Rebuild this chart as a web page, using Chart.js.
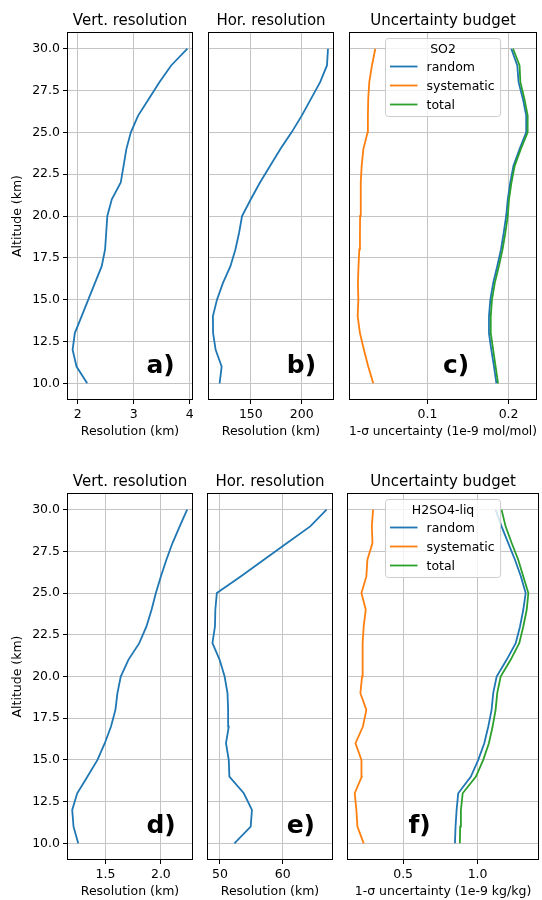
<!DOCTYPE html>
<html>
<head>
<meta charset="utf-8">
<script src="https://cdn.jsdelivr.net/npm/chart.js@4.4.1/dist/chart.umd.min.js"></script>
<style>
  html, body { margin: 0; padding: 0; background: #fff; overflow: hidden; }
  #fig { position: relative; width: 542px; height: 900px; }
  #fig canvas { position: absolute; }
</style>
</head>
<body>
<div id="fig"></div>
<script>
// altitude levels (km), bottom to top
const altitude = [10, 11, 12, 13, 14, 15, 16, 17, 18, 19, 20, 21, 22, 23, 24, 25, 26, 27, 28, 29, 30];
const altRange = [9, 31];
const altTicks = [10, 12.5, 15, 17.5, 20, 22.5, 25, 27.5, 30];
const altTickLabels = ['10.0', '12.5', '15.0', '17.5', '20.0', '22.5', '25.0', '27.5', '30.0'];

const seriesNames = ['random', 'systematic', 'total'];

// --- SO2 (top row) ---
const vertResSO2 = [2.17, 1.98, 1.91, 1.95, 2.07, 2.19, 2.31, 2.43, 2.49, 2.51, 2.53, 2.61, 2.77, 2.82, 2.87, 2.95, 3.08, 3.27, 3.46, 3.67, 3.96];
const vertResSO2Range = [1.81, 4.06];
const vertResSO2Ticks = [2, 3, 4];
const vertResSO2TickLabels = ['2', '3', '4'];

const horResSO2 = [119.4, 121.4, 115.5, 113, 112.8, 116.8, 122.7, 130, 134.9, 138.5, 141.4, 150, 159, 169, 179, 190, 200, 209, 218, 224.7, 225.7];
const horResSO2Range = [108, 231.6];
const horResSO2Ticks = [150, 200];
const horResSO2TickLabels = ['150', '200'];

const randomSO2 = [0.185, 0.182, 0.1787, 0.1758, 0.1758, 0.1775, 0.181, 0.186, 0.1906, 0.194, 0.197, 0.199, 0.202, 0.206, 0.2135, 0.2217, 0.2217, 0.2176, 0.2123, 0.2107, 0.2033];
const systematicSO2 = [0.0332, 0.027, 0.0217, 0.0168, 0.014, 0.0148, 0.0143, 0.015, 0.016, 0.0168, 0.017, 0.0176, 0.018, 0.0189, 0.021, 0.0262, 0.0266, 0.027, 0.0283, 0.0316, 0.0357];
const totalSO2 = [0.187, 0.184, 0.181, 0.178, 0.178, 0.1795, 0.183, 0.188, 0.1925, 0.196, 0.199, 0.2005, 0.2035, 0.2075, 0.215, 0.2235, 0.2235, 0.2195, 0.2145, 0.2135, 0.2055];
const uncSO2Range = [0.0033, 0.235];
const uncSO2Ticks = [0.1, 0.2];
const uncSO2TickLabels = ['0.1', '0.2'];

// --- H2SO4-liq (bottom row) ---
const vertResH2SO4 = [1.254, 1.212, 1.2, 1.245, 1.338, 1.428, 1.494, 1.55, 1.59, 1.608, 1.638, 1.707, 1.805, 1.87, 1.916, 1.955, 2.0, 2.05, 2.105, 2.17, 2.237];
const vertResH2SO4Range = [1.153, 2.29];
const vertResH2SO4Ticks = [1.5, 2.0];
const vertResH2SO4TickLabels = ['1.5', '2.0'];

const horResH2SO4 = [52.3, 54.9, 55.1, 53.8, 51.5, 51.4, 50.96, 51.4, 51.3, 51.2, 50.74, 49.95, 48.8, 49.2, 49.26, 49.5, 53.3, 57.0, 60.7, 64.4, 67.0];
const horResH2SO4Range = [47.93, 68.03];
const horResH2SO4Ticks = [50, 60];
const horResH2SO4TickLabels = ['50', '60'];

const randomH2SO4 = [0.848, 0.852, 0.859, 0.87, 0.955, 1.0045, 1.045, 1.072, 1.094, 1.105, 1.128, 1.195, 1.256, 1.285, 1.307, 1.323, 1.291, 1.251, 1.206, 1.161, 1.121];
const systematicH2SO4 = [0.235, 0.193, 0.186, 0.175, 0.222, 0.22, 0.18, 0.23, 0.253, 0.213, 0.224, 0.226, 0.23, 0.235, 0.249, 0.22, 0.253, 0.26, 0.294, 0.29, 0.298];
const totalH2SO4 = [0.881, 0.883, 0.888, 0.9, 0.989, 1.038, 1.076, 1.101, 1.121, 1.132, 1.155, 1.222, 1.28, 1.307, 1.33, 1.341, 1.307, 1.273, 1.229, 1.188, 1.161];
const uncH2SO4Range = [0.123, 1.4125];
const uncH2SO4Ticks = [0.5, 1.0];
const uncH2SO4TickLabels = ['0.5', '1.0'];

const BLUE = '#1f77b4', ORANGE = '#ff7f0e', GREEN = '#2ca02c';
const FONT = '"DejaVu Sans", sans-serif';

Chart.defaults.font.family = FONT;
Chart.defaults.font.size = 12.5;
Chart.defaults.color = '#000';

// chart-area boxes: left, top, width, height (page pixels)
const panels = [
    { box: [67, 32, 126, 368], title: 'Vert. resolution', xLabel: 'Resolution (km)', showY: true,
      xRange: vertResSO2Range, xTicks: vertResSO2Ticks, xTickLabels: vertResSO2TickLabels,
      series: [{ label: 'vert', data: vertResSO2, color: BLUE }], letter: 'a)', letterX: 0.63 },
    { box: [208, 32, 126, 368], title: 'Hor. resolution', xLabel: 'Resolution (km)', showY: false,
      xRange: horResSO2Range, xTicks: horResSO2Ticks, xTickLabels: horResSO2TickLabels,
      series: [{ label: 'hor', data: horResSO2, color: BLUE }], letter: 'b)', letterX: 0.625 },
    { box: [349, 32, 188, 368], title: 'Uncertainty budget', xLabel: '1-σ uncertainty (1e-9 mol/mol)', showY: false,
      xRange: uncSO2Range, xTicks: uncSO2Ticks, xTickLabels: uncSO2TickLabels,
      series: [
          { label: seriesNames[0], data: randomSO2, color: BLUE },
          { label: seriesNames[1], data: systematicSO2, color: ORANGE },
          { label: seriesNames[2], data: totalSO2, color: GREEN }
      ], letter: 'c)', letterX: 0.50, legendTitle: 'SO2' },
    { box: [67, 493, 126, 367], title: 'Vert. resolution', xLabel: 'Resolution (km)', showY: true,
      xRange: vertResH2SO4Range, xTicks: vertResH2SO4Ticks, xTickLabels: vertResH2SO4TickLabels,
      series: [{ label: 'vert', data: vertResH2SO4, color: BLUE }], letter: 'd)', letterX: 0.63 },
    { box: [207, 493, 126, 367], title: 'Hor. resolution', xLabel: 'Resolution (km)', showY: false,
      xRange: horResH2SO4Range, xTicks: horResH2SO4Ticks, xTickLabels: horResH2SO4TickLabels,
      series: [{ label: 'hor', data: horResH2SO4, color: BLUE }], letter: 'e)', letterX: 0.632 },
    { box: [347, 493, 192, 367], title: 'Uncertainty budget', xLabel: '1-σ uncertainty (1e-9 kg/kg)', showY: false,
      xRange: uncH2SO4Range, xTicks: uncH2SO4Ticks, xTickLabels: uncH2SO4TickLabels,
      series: [
          { label: seriesNames[0], data: randomH2SO4, color: BLUE },
          { label: seriesNames[1], data: systematicH2SO4, color: ORANGE },
          { label: seriesNames[2], data: totalH2SO4, color: GREEN }
      ], letter: 'f)', letterX: 0.32, legendTitle: 'H2SO4-liq' }
];

// spines, panel letter and matplotlib-like legend
const panelDecor = {
    id: 'panelDecor',
    afterDatasetsDraw(chart, args, opts) {
        const { ctx, chartArea: a } = chart;
        ctx.save();

        ctx.strokeStyle = '#000';
        ctx.lineWidth = 1;
        ctx.strokeRect(a.left + 0.5, a.top + 0.5, a.width - 1, a.height - 1);

        ctx.font = 'bold 25px ' + FONT;
        ctx.fillStyle = '#000';
        ctx.textAlign = 'left';
        ctx.textBaseline = 'alphabetic';
        ctx.fillText(opts.letter, a.left + opts.letterX * a.width, a.bottom - 0.073 * a.height);

        if (opts.legendTitle) {
            ctx.font = '12.5px ' + FONT;
            const ds = chart.data.datasets;
            const textW = Math.max(...ds.map(d => ctx.measureText(d.label).width));
            const w = textW + 47, h = 78;
            const x0 = Math.round((a.left + a.right) / 2 - w / 2) + 0.5;
            const y0 = a.top + 6.5;
            ctx.beginPath();
            ctx.roundRect(x0, y0, w, h, 3);
            ctx.fillStyle = 'rgba(255,255,255,0.8)';
            ctx.fill();
            ctx.strokeStyle = '#cccccc';
            ctx.lineWidth = 1;
            ctx.stroke();

            ctx.fillStyle = '#000';
            ctx.textAlign = 'center';
            ctx.textBaseline = 'middle';
            ctx.fillText(opts.legendTitle, x0 + w / 2, y0 + 11);
            ctx.textAlign = 'left';
            ds.forEach((d, i) => {
                const yy = y0 + 28 + i * 19;
                ctx.strokeStyle = d.borderColor;
                ctx.lineWidth = 1.8;
                ctx.beginPath();
                ctx.moveTo(x0 + 4.5, yy);
                ctx.lineTo(x0 + 32, yy);
                ctx.stroke();
                ctx.fillText(d.label, x0 + 41, yy + 1);
            });
        }
        ctx.restore();
    }
};

const fig = document.getElementById('fig');

panels.forEach(p => {
    const [L, T, W, H] = p.box;
    const canvas = document.createElement('canvas');
    canvas.width = W + 63;
    canvas.height = H + 77;
    canvas.style.left = (L - 60) + 'px';
    canvas.style.top = (T - 32) + 'px';
    fig.appendChild(canvas);

    const n = p.series.length;
    const datasets = p.series.map((s, i) => ({
        label: s.label,
        data: altitude.map((alt, k) => ({ x: s.data[k], y: alt })),
        borderColor: s.color,
        backgroundColor: s.color,
        borderWidth: 1.8,
        showLine: true,
        pointRadius: 0,
        tension: 0,
        order: n - i
    }));

    new Chart(canvas, {
        type: 'scatter',
        data: { datasets: datasets },
        plugins: [panelDecor],
        options: {
            responsive: false,
            animation: false,
            layout: { padding: { top: 0, left: 0, right: 3, bottom: 0 } },
            scales: {
                x: {
                    type: 'linear',
                    position: 'bottom',
                    min: p.xRange[0],
                    max: p.xRange[1],
                    afterBuildTicks: axis => { axis.ticks = p.xTicks.map(v => ({ value: v })); },
                    afterFit: axis => {
                        axis.height = 45;
                        axis.paddingLeft = 0; axis.paddingRight = 0;
                    },
                    ticks: {
                        autoSkip: false,
                        maxRotation: 0,
                        padding: 3,
                        color: '#000',
                        font: { size: 12.5 },
                        callback: (v, i) => p.xTickLabels[i]
                    },
                    grid: { color: '#c4c4c4', lineWidth: 1, tickColor: '#000', tickLength: 4, drawTicks: true },
                    border: { display: false },
                    title: { display: true, text: p.xLabel, color: '#000', font: { size: 12.5 }, padding: { top: 0, bottom: 5.5 } }
                },
                y: {
                    type: 'linear',
                    position: 'left',
                    min: altRange[0],
                    max: altRange[1],
                    afterBuildTicks: axis => { axis.ticks = altTicks.map(v => ({ value: v })); },
                    afterFit: axis => {
                        axis.width = 60;
                        axis.paddingTop = 0; axis.paddingBottom = 0;
                    },
                    ticks: {
                        display: p.showY,
                        autoSkip: false,
                        padding: 3,
                        color: '#000',
                        font: { size: 12.5 },
                        callback: (v, i) => altTickLabels[i]
                    },
                    grid: { color: '#c4c4c4', lineWidth: 1, tickColor: '#000', tickLength: 4, drawTicks: p.showY },
                    border: { display: false },
                    title: { display: p.showY, text: 'Altitude (km)', color: '#000', font: { size: 12.5 }, padding: { top: 3, bottom: 0 } }
                }
            },
            plugins: {
                legend: { display: false },
                tooltip: { enabled: false },
                title: {
                    display: true,
                    text: p.title,
                    fullSize: false,
                    color: '#000',
                    font: { size: 15, weight: 'normal' },
                    padding: { top: 12, bottom: 2 }
                },
                panelDecor: { letter: p.letter, letterX: p.letterX, legendTitle: p.legendTitle }
            }
        }
    });
});
</script>
</body>
</html>
